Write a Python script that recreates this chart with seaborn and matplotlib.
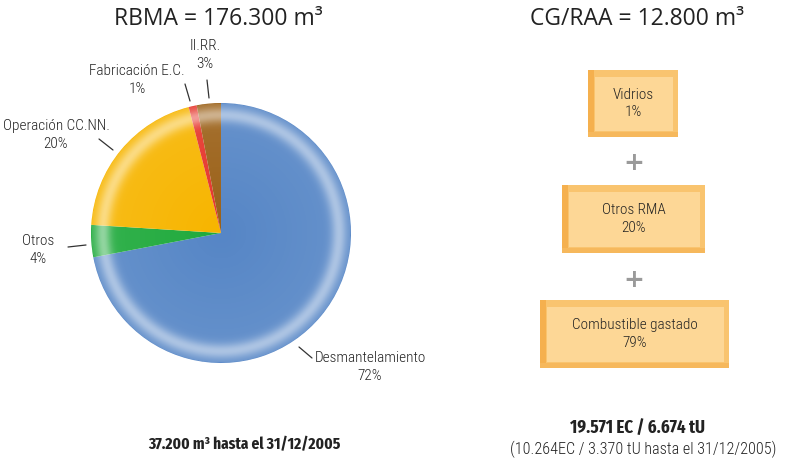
import matplotlib.pyplot as plt
import numpy as np
import seaborn as sns
from matplotlib.patches import Rectangle, Circle

# datos del grafico
categorias = ["Desmantelamiento", "Otros", "Operación CC.NN.", "Fabricación E.C.", "II.RR."]
porcentajes = [72, 4, 20, 1, 3]
cajas = ["Vidrios", "Otros RMA", "Combustible gastado"]
cajas_pct = [1, 20, 79]

titulo_izq = "RBMA = 176.300 m³"
titulo_der = "CG/RAA = 12.800 m³"
pie_izq = "37.200 m³ hasta el 31/12/2005"
pie_der1 = "19.571 EC / 6.674 tU"
pie_der2 = "(10.264EC / 3.370 tU hasta el 31/12/2005)"

sns.set_theme(style="white")
plt.rcParams['font.family'] = ['Roboto Condensed', 'DejaVu Sans']
negrita = ['Fira Sans Extra Condensed', 'Roboto Condensed', 'DejaVu Sans']

colores = sns.color_palette(["#5686c6", "#1faa3c", "#f7b500", "#e6352b", "#9b6118"])

W, H = 789, 463
fig = plt.figure(figsize=(W / 100, H / 100), dpi=100)
ax = fig.add_axes([0, 0, 1, 1])


def Y(y):
    # pixeles desde arriba -> coordenadas
    return H - y


# tarta
cx, cy, r = 221, Y(233), 130
wedges, _ = ax.pie(porcentajes, colors=colores, startangle=90, counterclock=False,
                   center=(cx, cy), radius=r, frame=True,
                   wedgeprops=dict(linewidth=0))

# brillo radial en el borde
n = 400
gx, gy = np.meshgrid(np.linspace(-1, 1, n), np.linspace(-1, 1, n))
rr = np.sqrt(gx ** 2 + gy ** 2)
alpha = np.clip(0.42 * np.exp(-((rr - 0.91) / 0.06) ** 2) + 0.10 * rr, 0, 1)
alpha[rr > 1] = 0
img = np.zeros((n, n, 4))
img[..., :3] = 1
img[..., 3] = alpha
im = ax.imshow(img, extent=(cx - r, cx + r, cy - r, cy + r), origin='lower', zorder=3)
im.set_clip_path(Circle((cx, cy), r, transform=ax.transData))
ax.set_xlim(0, W)
ax.set_ylim(0, H)
ax.set_aspect('auto')
ax.axis('off')

# etiquetas y lineas guia
pos_texto = [(370, 367), (38, 250), (56, 135), (137, 80), (205, 55)]
guias = [((299, 347), (312, 358)), ((68, 247), (86, 245)), ((99, 139), (113, 150)),
         ((185, 84), (190, 101)), ((207, 80), (209, 98))]
for nombre, pct, (tx, ty), ((x1, y1), (x2, y2)) in zip(categorias, porcentajes, pos_texto, guias):
    ax.text(tx, Y(ty), f"{nombre}\n{pct}%", ha='center', va='center', fontsize=11,
            fontweight='light', color='#222222', linespacing=1.3, multialignment='center')
    ax.plot([x1, x2], [Y(y1), Y(y2)], color='#333333', lw=0.9)

# titulos
ax.text(218, Y(19), titulo_izq, ha='center', va='center', fontsize=16.5,
        family=['Open Sans', 'DejaVu Sans'], color='#222222')
ax.text(637, Y(19), titulo_der, ha='center', va='center', fontsize=16.5,
        family=['Open Sans', 'DejaVu Sans'], color='#222222')

# cajas con bisel
rect_cajas = [(588, 70, 678, 137), (562, 185, 705, 253), (540, 300, 729, 368)]
for nombre, pct, (x0, y0, x1, y1) in zip(cajas, cajas_pct, rect_cajas):
    ax.add_patch(Rectangle((x0, Y(y1)), x1 - x0, y1 - y0, facecolor='#f9c46f', lw=0))
    ax.add_patch(Rectangle((x0, Y(y1)), 6, y1 - y0, facecolor='#f5b04e', lw=0))
    ax.add_patch(Rectangle((x0, Y(y1)), x1 - x0, 5, facecolor='#f6b85c', lw=0))
    ax.add_patch(Rectangle((x0 + 7, Y(y1 - 6)), x1 - x0 - 12, y1 - y0 - 13,
                           facecolor='#fdd796', lw=0))
    ax.text((x0 + x1) / 2, Y((y0 + y1) / 2), f"{nombre}\n{pct}%", ha='center', va='center',
            fontsize=11, fontweight='light', color='#222222', linespacing=1.3)

for yp in [163, 280]:
    ax.text(634, Y(yp), "+", ha='center', va='center', fontsize=18, fontweight='bold',
            color='#9a9a9a', family='DejaVu Sans')

# textos inferiores
ax.text(244, Y(445), pie_izq, ha='center', va='center', fontsize=12, fontweight='bold',
        family=negrita, color='#222222')
ax.text(637, Y(428), pie_der1, ha='center', va='center', fontsize=13.2, fontweight='bold',
        family=negrita, color='#222222')
ax.text(643, Y(449), pie_der2, ha='center', va='center', fontsize=11.6, fontweight='light',
        color='#222222')

fig.savefig('out.png', dpi=100)
